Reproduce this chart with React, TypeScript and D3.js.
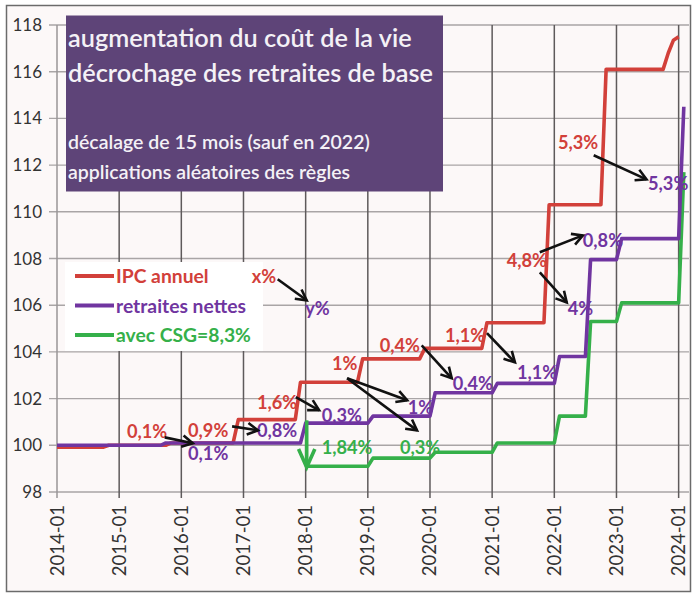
import React from "react";
import * as d3 from "d3";

// ---------- data ----------
const xTickLabels = ["2014-01","2015-01","2016-01","2017-01","2018-01","2019-01","2020-01","2021-01","2022-01","2023-01","2024-01"];
const yTicks = [98,100,102,104,106,108,110,112,114,116,118];

const ipcDates = ["2014-01","2014-10","2014-11","2015-10","2015-11","2016-11","2016-12","2017-11","2017-12","2018-11","2018-12","2019-11","2019-12","2020-11","2020-12","2021-11","2021-12","2022-10","2022-11","2023-10","2023-11","2023-12","2024-01"];
const ipcValues = [99.92,99.92,100,100,100.1,100.1,101.1,101.1,102.7,102.7,103.7,103.7,104.15,104.15,105.25,105.25,110.3,110.3,116.1,116.1,116.8,117.35,117.5];

const retrDates = ["2014-01","2015-09","2015-10","2017-12","2018-01","2019-01","2019-02","2020-01","2020-02","2021-01","2021-02","2022-01","2022-02","2022-07","2022-08","2023-01","2023-02","2024-01","2024-02"];
const retrValues = [100,100,100.1,100.1,100.95,100.95,101.25,101.25,102.25,102.25,102.65,102.65,103.8,103.8,107.95,107.95,108.85,108.85,114.5];

const csgDates = ["2018-01","2019-01","2019-02","2020-01","2020-02","2021-01","2021-02","2022-01","2022-02","2022-07","2022-08","2023-01","2023-02","2024-01","2024-02"];
const csgValues = [99.1,99.1,99.45,99.45,99.7,99.7,100.1,100.1,101.25,101.25,105.3,105.3,106.1,106.1,111.7];

const seriesNames = ["IPC annuel","retraites nettes","avec CSG=8,3%"];
const seriesColors = ["#d2403a","#7035a0","#35b04a"];

// annotation labels: [text, month index, value, series index]
const labelTexts = ["0,1%","0,9%","1,6%","1%","0,4%","1,1%","4,8%","5,3%","x%",
  "0,1%","0,8%","0,3%","1%","0,4%","1,1%","4%","0,8%","5,3%","y%",
  "1,84%","0,3%"];
const labelMonths = [13.5,25.3,38.6,53.1,62.3,74.9,86.8,96.7,37.6,
  25.3,38.6,51.1,67.7,76.4,88.8,98.6,101.5,114.1,47.9,
  51.1,66.2];
const labelValues = [100.30,100.34,101.54,103.21,103.98,104.41,107.62,112.68,106.94,
  99.36,100.34,100.99,101.33,102.36,102.83,105.57,108.48,110.92,105.57,
  99.61,99.61];
const labelSeries = [0,0,0,0,0,0,0,0,0, 1,1,1,1,1,1,1,1,1,1, 2,2];

// arrows: from (month,value) to (month,value)
const arrowFromM = [20.8,33.8,46.1,56,56,70.4,83,93.2,93.2,103.6,42.6];
const arrowFromV = [100.34,100.81,102.06,102.87,102.87,104.28,104.8,108.27,107.41,112.42,107.11];
const arrowToM = [26.2,38.8,50.6,67.6,69.5,76.2,88.4,101.5,98.4,113.8,48.2];
const arrowToV = [100.09,100.64,101.5,101.93,100.64,102.87,103.55,108.99,106.12,111.39,106.21];
const csgArrowM = 48.2;
const csgArrowFrom = 101.07;
const csgArrowTo = 99.06;

const titleLines = ["augmentation du coût de la vie","décrochage des retraites de base"];
const subtitleLines = ["décalage de 15 mois (sauf en 2022)","applications aléatoires des règles"];

// ---------- helpers ----------
const toMonth = (s: string) => {
  const [y, m] = s.split("-").map(Number);
  return (y - 2014) * 12 + (m - 1);
};

const W = 694, H = 594;
const FONT = "Lato, 'Open Sans', sans-serif";

function arrowPath(x1: number, y1: number, x2: number, y2: number, L: number, th: number) {
  const a = Math.atan2(y2 - y1, x2 - x1);
  const p1 = [x2 - L * Math.cos(a - th), y2 - L * Math.sin(a - th)];
  const p2 = [x2 - L * Math.cos(a + th), y2 - L * Math.sin(a + th)];
  return {
    shaft: `M${x1},${y1}L${x2},${y2}`,
    head: `M${p1[0]},${p1[1]}L${x2},${y2}L${p2[0]},${p2[1]}`,
  };
}

export default function App() {
  const x = d3.scaleLinear().domain([0, 122]).range([57, 689]);
  const y = d3.scaleLinear().domain([98, 118]).range([492, 25]);

  const mk = (dates: string[], vals: number[]) => dates.map((d, i) => [toMonth(d), vals[i]] as [number, number]);
  const series = [mk(ipcDates, ipcValues), mk(csgDates, csgValues), mk(retrDates, retrValues)];
  const seriesColorOrder = [seriesColors[0], seriesColors[2], seriesColors[1]];
  const line = d3.line<[number, number]>().x(d => x(d[0])).y(d => y(d[1]));

  const xTicks = xTickLabels.map(toMonth);

  return (
    <svg width={W} height={H} style={{ position: "absolute", left: 0, top: 0, fontFamily: FONT }}>
      <rect x={0} y={0} width={W} height={H} fill="#ffffff" />
      <rect x={6.5} y={5.5} width={684} height={586} fill="#fcf8f8" stroke="#6b6b6b" strokeWidth={1.5} />

      {/* horizontal grid */}
      {yTicks.map(t => (
        <g key={"h" + t}>
          <line x1={49} x2={689} y1={y(t)} y2={y(t)} stroke="#a9a5a6" strokeWidth={1.4} />
          <text x={42} y={y(t) + 6} textAnchor="end" fontSize={17} fill="#333">{t}</text>
        </g>
      ))}
      {/* vertical grid */}
      {xTicks.map((m, i) => (
        <g key={"v" + i}>
          <line x1={x(m)} x2={x(m)} y1={y(118)} y2={y(98) + 6} stroke={i === 0 ? "#9a9697" : "#5e5a5b"} strokeWidth={1.5} />
          <text transform={`translate(${x(m) + 6.5},${y(98) + 13}) rotate(-90)`} textAnchor="end" fontSize={18.5} fill="#333">
            {xTickLabels[i]}
          </text>
        </g>
      ))}

      {/* title box */}
      <rect x={66} y={15.5} width={377} height={176} fill="#5e4478" />
      {titleLines.map((t, i) => (
        <text key={"t" + i} x={68} y={47 + i * 35} fontSize={25.3} fontWeight={600} fill="#f4f1f6">{t}</text>
      ))}
      {subtitleLines.map((t, i) => (
        <text key={"s" + i} x={68} y={149 + i * 30} fontSize={19.5} fontWeight={600} fill="#f4f1f6">{t}</text>
      ))}

      {/* legend */}
      <rect x={65} y={262} width={198} height={89} fill="#ffffff" />
      {seriesNames.map((n, i) => (
        <g key={"l" + i}>
          <line x1={75} x2={114} y1={276 + i * 29.5} y2={276 + i * 29.5} stroke={seriesColors[i]} strokeWidth={4} />
          <text x={116} y={283 + i * 29.5} fontSize={19.3} fontWeight={700} fill={seriesColors[i]}>{n}</text>
        </g>
      ))}

      {/* series */}
      {series.map((s, i) => (
        <path key={"p" + i} d={line(s) || ""} fill="none" stroke={seriesColorOrder[i]} strokeWidth={3.6} strokeLinejoin="round" />
      ))}

      {/* labels */}
      {labelTexts.map((t, i) => (
        <text key={"lb" + i} x={x(labelMonths[i])} y={y(labelValues[i])} fontSize={18.2} fontWeight={700}
          fill={seriesColors[labelSeries[i]]}>{t}</text>
      ))}

      {/* arrows */}
      {arrowFromM.map((m, i) => {
        const a = arrowPath(x(m), y(arrowFromV[i]), x(arrowToM[i]), y(arrowToV[i]), 12, 0.5);
        return (
          <g key={"a" + i} fill="none" stroke="#111" strokeWidth={2.6}>
            <path d={a.shaft} />
            <path d={a.head} strokeLinejoin="miter" />
          </g>
        );
      })}
      {(() => {
        const a = arrowPath(x(csgArrowM), y(csgArrowFrom), x(csgArrowM), y(csgArrowTo), 20, 0.42);
        return (
          <g fill="none" stroke={seriesColors[2]} strokeWidth={3.6}>
            <path d={a.shaft} />
            <path d={a.head} />
          </g>
        );
      })()}
    </svg>
  );
}
